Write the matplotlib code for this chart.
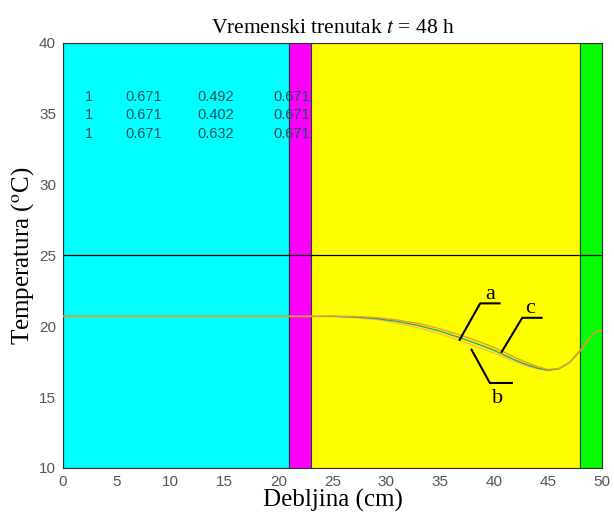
import matplotlib.pyplot as plt
from matplotlib.patches import Rectangle

plt.rcParams['mathtext.fontset'] = 'stix'

# slojevi zida (cm) i boje
slojevi = [(0, 21, '#00ffff'), (21, 23, '#ff00ff'), (23, 48, '#ffff00'), (48, 50, '#00ff00')]

# debljina (cm)
x = [0, 5, 10, 15, 20, 23, 25, 27, 29, 31, 33, 35, 37, 39, 40, 41, 42, 43,
     44, 45, 46, 47, 48, 48.5, 49, 49.5, 50]
# temperature (C) za krivulje a, b, c
T_a = [20.7, 20.7, 20.7, 20.7, 20.7, 20.7, 20.7, 20.65, 20.55, 20.35, 20.05, 19.65,
       19.15, 18.6, 18.3, 17.95, 17.6, 17.3, 17.05, 16.9, 17.0, 17.45, 18.3, 18.8,
       19.3, 19.65, 19.7]
T_b = [20.7, 20.7, 20.7, 20.7, 20.7, 20.7, 20.7, 20.62, 20.48, 20.22, 19.88, 19.45,
       18.95, 18.4, 18.1, 17.8, 17.48, 17.2, 17.0, 16.88, 17.0, 17.45, 18.3, 18.8,
       19.3, 19.65, 19.7]
T_c = [20.7, 20.7, 20.7, 20.7, 20.7, 20.7, 20.72, 20.7, 20.62, 20.45, 20.2, 19.82,
       19.35, 18.8, 18.5, 18.15, 17.78, 17.45, 17.15, 16.95, 17.02, 17.45, 18.3, 18.8,
       19.3, 19.65, 19.7]

# tablica koeficijenata
tablica = [['1', '0.671', '0.492', '0.671'],
           ['1', '0.671', '0.402', '0.671'],
           ['1', '0.671', '0.632', '0.671']]
tab_x = [2.0, 5.8, 12.5, 19.5]
tab_y = [36.2, 34.9, 33.6]

serif = 'Liberation Serif'
sans = 'Liberation Sans'

fig = plt.figure(figsize=(6.14, 5.23), dpi=100)
ax = fig.add_axes([0.1026, 0.1052, 0.8778, 0.8126])

for x0, x1, boja in slojevi:
    ax.add_patch(Rectangle((x0, 10), x1 - x0, 30, facecolor=boja,
                           edgecolor='#333333', linewidth=0.8, zorder=1))

ax.axhline(25, color='black', linewidth=0.9, zorder=2)

ax.plot(x, T_b, color='#ffc040', linewidth=1.0, zorder=3)
ax.plot(x, T_a, color='#30a080', linewidth=1.0, zorder=4)
ax.plot(x, T_c, color='#e8a020', linewidth=1.0, zorder=5)

for i, red in enumerate(tablica):
    for j, v in enumerate(red):
        ax.text(tab_x[j], tab_y[i], v, fontsize=10.5, family=sans, color='#1e4e5a',
                va='center', ha='left', zorder=6)

# oznake krivulja
ax.plot([36.8, 38.7, 40.5], [19.05, 21.62, 21.62], color='black', linewidth=1.5, zorder=7)
ax.text(39.6, 21.6, 'a', fontsize=16, family=serif, ha='center', va='bottom', zorder=7)
ax.plot([40.7, 42.6, 44.4], [18.2, 20.6, 20.6], color='black', linewidth=1.5, zorder=7)
ax.text(43.3, 20.6, 'c', fontsize=16, family=serif, ha='center', va='bottom', zorder=7)
ax.plot([37.9, 39.6, 41.65], [18.35, 16.0, 16.0], color='black', linewidth=1.5, zorder=7)
ax.text(40.3, 15.6, 'b', fontsize=16, family=serif, ha='center', va='top', zorder=7)

ax.set_xlim(0, 50)
ax.set_ylim(10, 40)
ax.set_xticks(range(0, 51, 5))
ax.set_yticks(range(10, 41, 5))
ax.tick_params(length=0, labelsize=11, labelcolor='#555555', pad=5)
for t in ax.get_xticklabels() + ax.get_yticklabels():
    t.set_family(sans)
for s in ax.spines.values():
    s.set_color('#333333')
    s.set_linewidth(0.8)

ax.set_xlabel('Debljina (cm)', fontsize=18, family=serif, labelpad=0)
ax.set_ylabel('Temperatura ($^{\\rm o}$C)', fontsize=18, family=serif, labelpad=2)
ax.set_title('Vremenski trenutak $t$ = 48 h', fontsize=15.5, family=serif, pad=7)

fig.savefig('out.png', dpi=100)
